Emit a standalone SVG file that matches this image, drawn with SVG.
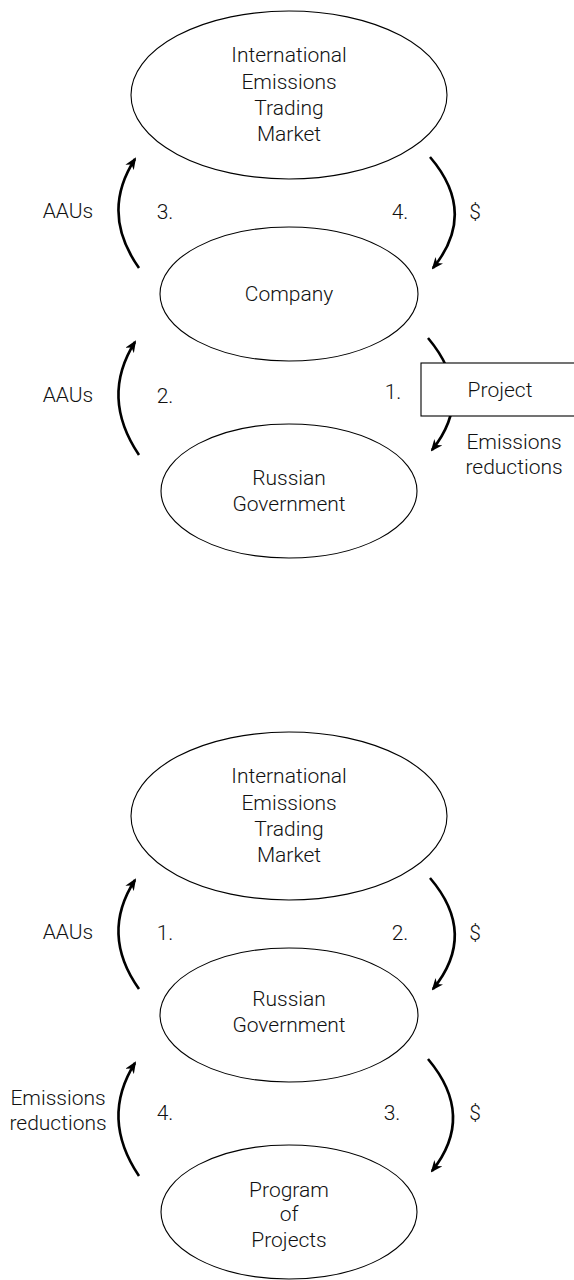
<svg xmlns="http://www.w3.org/2000/svg" width="574" height="1280" viewBox="0 0 574 1280">
<style>
  .node { fill: #ffffff; stroke: #000000; stroke-width: 1.1; }
  .t { font-family: Roboto, "Open Sans", "Noto Sans", "DejaVu Sans", sans-serif; font-weight: 300; font-size: 21px; fill: #111111; text-anchor: middle; }
  .arr { fill: none; stroke: #000000; stroke-width: 2.6; marker-end: url(#ah); }
</style>
<defs>
  <marker id="ah" viewBox="0 0 12 10" refX="10" refY="5" markerWidth="12" markerHeight="10" markerUnits="userSpaceOnUse" orient="auto">
    <path d="M0,0 L12,5 L0,10 L3.5,5 Z" fill="#000000"/>
  </marker>
</defs>
<rect width="574" height="1280" fill="#ffffff"/>

<!-- Top diagram -->
<g id="connectors-top">
  <path class="arr" d="M139,268 Q100,213 135,159"/>
  <path class="arr" d="M430,157 Q478,213 433,268"/>
  <path class="arr" d="M139,455 Q100,397 135,342"/>
  <path class="arr" d="M428,338 Q476,395 432,450"/>
</g>
<g id="ietm-top">
  <ellipse class="node" cx="289" cy="95" rx="158" ry="84"/>
  <text class="t" x="289" y="62">International</text>
  <text class="t" x="289" y="89">Emissions</text>
  <text class="t" x="289" y="115">Trading</text>
  <text class="t" x="289" y="141">Market</text>
</g>
<g id="company">
  <ellipse class="node" cx="289" cy="294" rx="129" ry="67"/>
  <text class="t" x="289" y="301">Company</text>
</g>
<g id="russian-gov-top">
  <ellipse class="node" cx="289" cy="491" rx="128" ry="67"/>
  <text class="t" x="289" y="485">Russian</text>
  <text class="t" x="289" y="511">Government</text>
</g>
<g id="project">
  <rect class="node" x="421" y="363" width="160" height="53"/>
  <text class="t" x="500" y="397">Project</text>
</g>
<g id="labels-top">
  <text class="t" x="68" y="218">AAUs</text>
  <text class="t" x="165" y="219">3.</text>
  <text class="t" x="400" y="219">4.</text>
  <text class="t" x="475" y="219">$</text>
  <text class="t" x="68" y="402">AAUs</text>
  <text class="t" x="165" y="403">2.</text>
  <text class="t" x="393" y="399">1.</text>
  <text class="t" x="514" y="449">Emissions</text>
  <text class="t" x="514" y="474">reductions</text>
</g>

<!-- Bottom diagram -->
<g id="connectors-bottom">
  <path class="arr" d="M139,989 Q100,934 135,880"/>
  <path class="arr" d="M430,878 Q478,934 433,989"/>
  <path class="arr" d="M139,1176 Q100,1118 135,1063"/>
  <path class="arr" d="M428,1059 Q476,1116 432,1171"/>
</g>
<g id="ietm-bottom">
  <ellipse class="node" cx="289" cy="816" rx="158" ry="84"/>
  <text class="t" x="289" y="783">International</text>
  <text class="t" x="289" y="810">Emissions</text>
  <text class="t" x="289" y="836">Trading</text>
  <text class="t" x="289" y="862">Market</text>
</g>
<g id="russian-gov-bottom">
  <ellipse class="node" cx="289" cy="1015" rx="129" ry="67"/>
  <text class="t" x="289" y="1006">Russian</text>
  <text class="t" x="289" y="1032">Government</text>
</g>
<g id="program">
  <ellipse class="node" cx="289" cy="1212" rx="128" ry="67"/>
  <text class="t" x="289" y="1197">Program</text>
  <text class="t" x="289" y="1221">of</text>
  <text class="t" x="289" y="1247">Projects</text>
</g>
<g id="labels-bottom">
  <text class="t" x="68" y="939">AAUs</text>
  <text class="t" x="165" y="940">1.</text>
  <text class="t" x="400" y="940">2.</text>
  <text class="t" x="475" y="940">$</text>
  <text class="t" x="58" y="1105">Emissions</text>
  <text class="t" x="58" y="1130">reductions</text>
  <text class="t" x="165" y="1120">4.</text>
  <text class="t" x="392" y="1120">3.</text>
  <text class="t" x="475" y="1120">$</text>
</g>
</svg>
